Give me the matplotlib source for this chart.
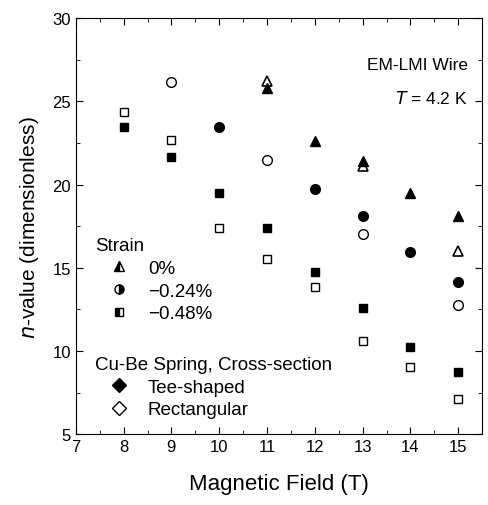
import matplotlib.pyplot as plt
from matplotlib.lines import Line2D

plt.rcParams['font.family'] = ['Liberation Sans', 'DejaVu Sans']

# strain 0%
x_tri_tee = [11, 12, 13, 14, 15]
y_tri_tee = [25.8, 22.6, 21.4, 19.5, 18.1]
x_tri_rect = [11, 13, 15]
y_tri_rect = [26.2, 21.1, 16.0]
# strain -0.24%
x_cir_tee = [10, 12, 13, 14, 15]
y_cir_tee = [23.45, 19.75, 18.1, 15.95, 14.15]
x_cir_rect = [9, 11, 13, 15]
y_cir_rect = [26.15, 21.5, 17.05, 12.75]
# strain -0.48%
x_sq_tee = [8, 9, 10, 11, 12, 13, 14, 15]
y_sq_tee = [23.45, 21.65, 19.5, 17.4, 14.75, 12.6, 10.25, 8.75]
x_sq_rect = [8, 9, 10, 11, 12, 13, 14, 15]
y_sq_rect = [24.35, 22.7, 17.4, 15.55, 13.85, 10.6, 9.05, 7.1]

fig = plt.figure(figsize=(4.89, 5.06), dpi=100)
ax = fig.add_axes([0.155, 0.14, 0.831, 0.822])

ax.plot(x_tri_rect, y_tri_rect, '^', ms=7.5, mfc='white', mec='black', mew=1.2, ls='none')
ax.plot(x_tri_tee, y_tri_tee, '^', ms=7.5, color='black', ls='none')
ax.plot(x_cir_tee, y_cir_tee, 'o', ms=7, color='black', ls='none')
ax.plot(x_cir_rect, y_cir_rect, 'o', ms=7, mfc='white', mec='black', mew=1.0, ls='none')
ax.plot(x_sq_tee, y_sq_tee, 's', ms=6.2, color='black', ls='none')
ax.plot(x_sq_rect, y_sq_rect, 's', ms=6.2, mfc='white', mec='black', mew=1.0, ls='none')

ax.set_xlim(7, 15.3)
ax.set_ylim(5, 30)
ax.set_xticks(range(7, 16))
ax.set_xticks([7.5 + i for i in range(9)], minor=True)
ax.set_yticks([5, 10, 15, 20, 25, 30])
ax.set_yticks([7.5, 12.5, 17.5, 22.5, 27.5], minor=True)
ax.tick_params(which='both', direction='in', top=True, right=True, labelsize=12)
ax.tick_params(which='major', length=5)
ax.tick_params(which='minor', length=3)

ax.set_xlabel('Magnetic Field (T)', fontsize=16, labelpad=14)
ax.set_ylabel('$\\it{n}$-value (dimensionless)', fontsize=15, labelpad=8)

ax.text(0.965, 0.889, 'EM-LMI Wire', transform=ax.transAxes, ha='right', va='center', fontsize=12.5)
ax.text(0.965, 0.810, '$\\it{T}$ = 4.2 K', transform=ax.transAxes, ha='right', va='center', fontsize=12.5)

strain_h = [
    Line2D([], [], marker='^', ls='none', ms=6.5, color='black', fillstyle='left', markerfacecoloralt='white'),
    Line2D([], [], marker='o', ls='none', ms=6.5, color='black', fillstyle='right', markerfacecoloralt='white'),
    Line2D([], [], marker='s', ls='none', ms=6, color='black', fillstyle='left', markerfacecoloralt='white'),
]
leg_kw = dict(frameon=False, fontsize=13.5, title_fontsize=13.5, handlelength=2.56,
              handletextpad=0.27, labelspacing=0.3, borderaxespad=0, borderpad=0)
leg1 = ax.legend(strain_h, ['0%', '\u22120.24%', '\u22120.48%'], title='Strain', loc='upper left',
                 bbox_to_anchor=(0.047, 0.474), **leg_kw)
leg1._legend_box.align = 'left'
ax.add_artist(leg1)

sec_h = [
    Line2D([], [], marker='D', ls='none', ms=7, color='black'),
    Line2D([], [], marker='D', ls='none', ms=7, mfc='white', mec='black'),
]
leg2 = ax.legend(sec_h, ['Tee-shaped', 'Rectangular'], title='Cu-Be Spring, Cross-section', loc='lower left',
                 bbox_to_anchor=(0.047, 0.038), **leg_kw)
leg2._legend_box.align = 'left'

fig.savefig('out.png', dpi=100)
